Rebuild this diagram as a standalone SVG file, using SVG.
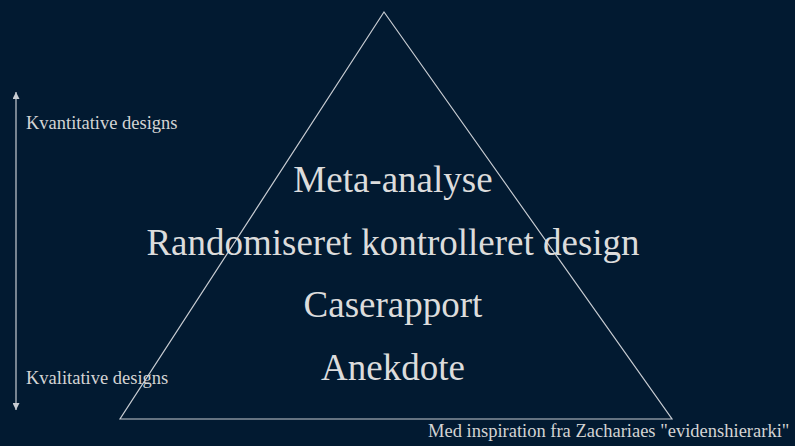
<svg xmlns="http://www.w3.org/2000/svg" width="795" height="446" viewBox="0 0 795 446">
<defs>
<style>
.big{font-family:"Liberation Serif","Times New Roman",serif;font-size:37px;fill:#dcdcdc;text-anchor:middle}
.small{font-family:"Liberation Serif","Times New Roman",serif;font-size:18.5px;fill:#d4d4d4}
.line{stroke:#c8ccd2;stroke-width:1.2;fill:none}
</style>
<marker id="ah" viewBox="0 0 10 10" refX="10" refY="5" markerWidth="7" markerHeight="7" markerUnits="userSpaceOnUse" orient="auto-start-reverse">
<path d="M0,0 L10,5 L0,10 z" fill="#c8ccd2"/>
</marker>
</defs>
<rect width="795" height="446" fill="#021a31"/>
<g id="connectors">
<line class="line" x1="16" y1="92" x2="16" y2="410" marker-start="url(#ah)" marker-end="url(#ah)"/>
</g>
<g id="triangle">
<polygon class="line" points="384,12 672,419 120,419"/>
</g>
<g id="level-meta"><text class="big" x="393" y="192">Meta-analyse</text></g>
<g id="level-rct"><text class="big" x="393" y="255">Randomiseret kontrolleret design</text></g>
<g id="level-case"><text class="big" x="393" y="317">Caserapport</text></g>
<g id="level-anekdote"><text class="big" x="393" y="380">Anekdote</text></g>
<g id="label-kvant"><text class="small" x="26" y="129">Kvantitative designs</text></g>
<g id="label-kval"><text class="small" x="26" y="384">Kvalitative designs</text></g>
<g id="footer"><text class="small" x="428" y="437">Med inspiration fra Zachariaes "evidenshierarki"</text></g>
</svg>
